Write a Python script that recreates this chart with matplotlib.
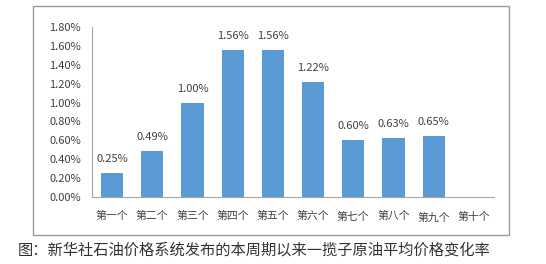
import matplotlib
matplotlib.use("Agg")
import matplotlib.pyplot as plt
from matplotlib.patches import Rectangle
from matplotlib.ticker import FuncFormatter, MultipleLocator

plt.rcParams['font.family'] = ['Noto Sans CJK SC', 'DejaVu Sans']

categories = ["第一个", "第二个", "第三个", "第四个", "第五个", "第六个", "第七个", "第八个", "第九个", "第十个"]
values = [0.25, 0.49, 1.00, 1.56, 1.56, 1.22, 0.60, 0.63, 0.65, None]
labels = ["0.25%", "0.49%", "1.00%", "1.56%", "1.56%", "1.22%", "0.60%", "0.63%", "0.65%", None]
caption = "图：新华社石油价格系统发布的本周期以来一揽子原油平均价格变化率"

fig = plt.figure(figsize=(5.46, 2.64), dpi=100)
fig.patch.set_facecolor("white")

# outer frame
fig.patches.append(Rectangle((33/546, 1 - 235/264), (509-33)/546, (235-6)/264,
                             transform=fig.transFigure, fill=False,
                             edgecolor="#9a9a9a", linewidth=1.0))

ax = fig.add_axes([92/546, 1 - 197/264, (494-92)/546, (197-27)/264])
xs = list(range(len(categories)))
vals = [v if v is not None else 0 for v in values]
bars = ax.bar(xs, vals, width=0.55, color="#5B9BD5")
for x, v, lab in zip(xs, values, labels):
    if v is None:
        continue
    ax.annotate(lab, (x, v), xytext=(0, 10), textcoords="offset points",
                ha="center", va="center", fontsize=8, color="#404040")

ax.set_xlim(-0.5, len(categories) - 0.5)
ax.set_ylim(0, 1.8)
ax.yaxis.set_major_locator(MultipleLocator(0.2))
ax.yaxis.set_major_formatter(FuncFormatter(lambda v, p: f"{v:.2f}%"))
ax.set_xticks(xs)
ax.set_xticklabels(categories)
ax.tick_params(axis="y", length=0, pad=8, labelsize=8, labelcolor="#404040")
ax.tick_params(axis="x", length=0, pad=11, labelsize=7.8, labelcolor="#404040")
for s in ["top", "right"]:
    ax.spines[s].set_visible(False)
for s in ["left", "bottom"]:
    ax.spines[s].set_color("#a6a6a6")
    ax.spines[s].set_linewidth(0.8)

fig.text(18/546, 1 - 250/264, caption, ha="left", va="center", fontsize=11, color="#333333")

fig.savefig("out.png", dpi=100)
